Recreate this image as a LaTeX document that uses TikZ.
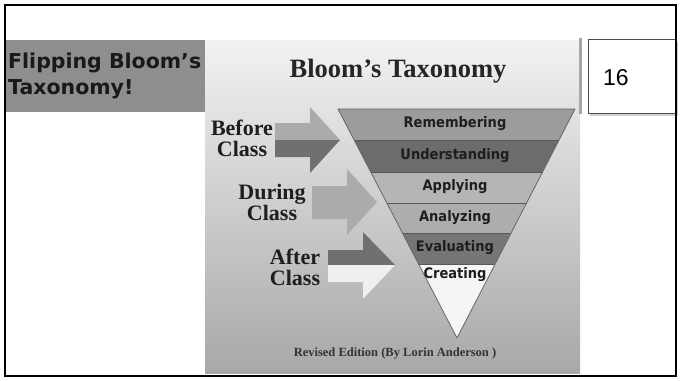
\documentclass[tikz,border=0pt]{standalone}
\usepackage{fontspec}
\setmainfont{Liberation Serif}
\newfontfamily\djsans{DejaVu Sans}
\newfontfamily\djcond{DejaVu Sans Condensed}
\newfontfamily\lisans{Liberation Sans}
\usetikzlibrary{shadows}
\definecolor{panelgray}{HTML}{8E8E8E}
\definecolor{bgtop}{HTML}{F2F2F2}
\definecolor{bgbot}{HTML}{A8A8A8}
\definecolor{bandA}{HTML}{9C9C9C}
\definecolor{bandB}{HTML}{6C6C6C}
\definecolor{bandC}{HTML}{B5B5B5}
\definecolor{bandD}{HTML}{ADADAD}
\definecolor{bandE}{HTML}{767676}
\definecolor{bandF}{HTML}{F5F5F5}
\definecolor{arrlight}{HTML}{ABABAB}
\definecolor{arrdark}{HTML}{707070}
\definecolor{arrwhite}{HTML}{EFEFEF}
\definecolor{inkdark}{HTML}{1E1E1E}
\tikzset{
  bandlabel/.style={font=\djcond\bfseries\fontsize{14.5}{15}\selectfont, text=inkdark, inner sep=0pt},
  sidelabel/.style={font=\bfseries\fontsize{22}{21}\selectfont, text=inkdark, inner sep=0pt, align=center},
  bandline/.style={draw=black!65, line width=0.6pt},
}
\begin{document}
\begin{tikzpicture}[x=1pt,y=-1pt]
\useasboundingbox (0,0) rectangle (682,380);
\fill[white] (0,0) rectangle (682,380);
% embedded picture background
\shade[top color=bgtop, bottom color=bgbot] (205,40) rectangle (580,373);
\fill[black!35] (579,38) rectangle (582,114);
% left title panel
\fill[panelgray] (6,40) rectangle (205,112);
\node[anchor=west, font=\djsans\bfseries\fontsize{20.5}{26}\selectfont, align=left, inner sep=0pt, text=black!90] (ptitle) at (8,76) {Flipping Bloom’s\\Taxonomy!};
% number box
\node[draw=black!70, line width=0.6pt, fill=white, drop shadow={shadow xshift=2pt, shadow yshift=-3pt, opacity=0.35}, minimum width=88pt, minimum height=74pt, anchor=north west, inner sep=0pt] (numbox) at (588,39) {};
\node[font=\lisans\fontsize{23}{24}\selectfont, anchor=west, inner sep=0pt] (num) at (603,78) {16};
% title of the picture
\node[font=\bfseries\fontsize{26.5}{28}\selectfont, text=black!85, inner sep=0pt] (ptitle2) at (398,71) {Bloom’s Taxonomy};
% funnel bands
\begin{scope}
\clip (338,109) -- (575,109) -- (457,338) -- cycle;
\fill[bandA] (330,109) rectangle (580,140);
\fill[bandB] (330,140) rectangle (580,172);
\fill[bandC] (330,172) rectangle (580,203);
\fill[bandD] (330,203) rectangle (580,233);
\fill[bandE] (330,233) rectangle (580,264);
\fill[bandF] (330,264) rectangle (580,340);
\end{scope}
\draw[bandline] (354.1,140) -- (559.0,140);
\draw[bandline] (370.7,172) -- (542.5,172);
\draw[bandline] (386.9,203) -- (526.6,203);
\draw[bandline] (402.4,233) -- (511.1,233);
\draw[bandline] (418.6,264) -- (495.1,264);
\draw[draw=black!60, line width=0.8pt, line join=round] (338,109) -- (575,109) -- (457,338) -- cycle;
\node[bandlabel] (b1) at (455,124) {Remembering};
\node[bandlabel] (b2) at (455,156) {Understanding};
\node[bandlabel] (b3) at (455,187) {Applying};
\node[bandlabel] (b4) at (455,218) {Analyzing};
\node[bandlabel] (b5) at (455,248) {Evaluating};
\node[bandlabel] (b6) at (455,275) {Creating};
% Before Class arrow (split)
\fill[arrlight] (275,123) -- (310,123) -- (310,107) -- (340,140) -- (275,140) -- cycle;
\fill[arrdark] (275,140) -- (340,140) -- (310,173) -- (310,157) -- (275,157) -- cycle;
% During Class arrow
\fill[arrlight] (312,186) -- (347,186) -- (347,169) -- (377,202) -- (347,235) -- (347,219) -- (312,219) -- cycle;
% After Class arrow (split)
\fill[arrdark] (328,250) -- (363,250) -- (363,232) -- (395,265) -- (328,265) -- cycle;
\fill[arrwhite] (328,265) -- (395,265) -- (363,299) -- (363,282) -- (328,282) -- cycle;
% side labels
\node[sidelabel] (before) at (242,138) {Before\\Class};
\node[sidelabel] (during) at (272,202) {During\\Class};
\node[sidelabel] (after) at (295,267) {After\\Class};
% caption
\node[font=\bfseries\fontsize{12.5}{13}\selectfont, text=black!80, inner sep=0pt] (caption) at (395,354) {Revised Edition (By Lorin Anderson )};
% outer frame
\draw[black, line width=1.8pt] (5,5) rectangle (676,376);
\end{tikzpicture}
\end{document}
